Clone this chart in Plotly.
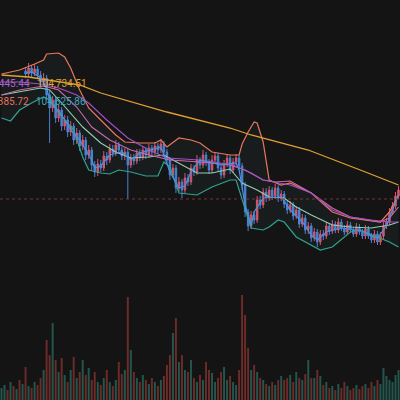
import plotly.graph_objects as go

# candles (index 0..132), prices
opens = [104780, 104840, 104920, 104800, 104940, 104860, 104960, 104840, 104980, 104920,
         105040, 104940, 105020, 104900, 104760, 104840, 104500, 104240, 104400, 104040,
         104200, 103880, 104000, 103760, 103880, 103600, 103740, 103480, 103600, 103300,
         103400, 103100, 102960, 103120, 103040, 103280, 103200, 103420, 103340, 103500,
         103400, 103280, 103360, 103100, 103240, 103180, 103340, 103260, 103400, 103300,
         103440, 103360, 103480, 103400, 103520, 103360, 103200, 102900, 103040, 102640,
         102760, 102600, 102840, 102760, 103040, 102960, 103200, 103100, 103300, 103160,
         103000, 103200, 103280, 103040, 102900, 103120, 103240, 103000, 103160, 103240,
         103080, 102700, 102160, 101880, 102100, 102000, 102400, 102300, 102560, 102440,
         102600, 102480, 102640, 102440, 102520, 102320, 102200, 102300, 102080, 102200,
         101920, 102040, 101800, 101880, 101640, 101760, 101560, 101720, 101680, 101880,
         101780, 101920, 101800, 101960, 101840, 101760, 101900, 101800, 101720, 101860,
         101760, 101680, 101820, 101680, 101600, 101720, 101560, 101680, 101880, 101960,
         102160, 102280, 102480]
closes = [104840, 104920, 104800, 104940, 104860, 104960, 104840, 104980, 104920, 105040,
          104940, 105020, 104900, 104760, 104840, 104500, 104240, 104400, 104040, 104200,
          103880, 104000, 103760, 103880, 103600, 103740, 103480, 103600, 103300, 103400,
          103100, 102960, 103120, 103040, 103280, 103200, 103420, 103340, 103500, 103400,
          103280, 103360, 103100, 103240, 103180, 103340, 103260, 103400, 103300, 103440,
          103360, 103480, 103400, 103520, 103360, 103200, 102900, 103040, 102640, 102760,
          102600, 102840, 102760, 103040, 102960, 103200, 103100, 103300, 103160, 103000,
          103200, 103280, 103040, 102900, 103120, 103240, 103000, 103160, 103240, 103080,
          102700, 102160, 101880, 102100, 102000, 102400, 102300, 102560, 102440, 102600,
          102480, 102640, 102440, 102520, 102320, 102200, 102300, 102080, 102200, 101920,
          102040, 101800, 101880, 101640, 101760, 101560, 101720, 101680, 101880, 101780,
          101920, 101800, 101960, 101840, 101760, 101900, 101800, 101720, 101860, 101760,
          101680, 101820, 101680, 101600, 101720, 101560, 101680, 101880, 101960, 102160,
          102280, 102480, 102600]
highs = [104920, 105000, 104980, 105020, 105000, 105060, 105020, 105080, 105060, 105140,
         105100, 105120, 105080, 104980, 104940, 104900, 104580, 104480, 104460, 104300,
         104260, 104100, 104080, 103980, 103940, 103840, 103800, 103700, 103660, 103500,
         103460, 103180, 103220, 103200, 103380, 103360, 103520, 103500, 103600, 103560,
         103460, 103440, 103420, 103320, 103320, 103420, 103420, 103480, 103460, 103520,
         103500, 103560, 103540, 103620, 103580, 103420, 103260, 103120, 103100, 102860,
         102820, 102940, 102920, 103120, 103100, 103300, 103260, 103400, 103360, 103220,
         103300, 103360, 103340, 103100, 103200, 103320, 103300, 103240, 103320, 103300,
         103140, 102760, 102220, 102180, 102180, 102480, 102480, 102640, 102640, 102680,
         102660, 102720, 102700, 102600, 102580, 102400, 102380, 102360, 102280, 102260,
         102120, 102100, 101960, 101940, 101840, 101820, 101800, 101800, 101960, 101940,
         102000, 101980, 102040, 102020, 101900, 101980, 101960, 101860, 101940, 101920,
         101820, 101900, 101880, 101740, 101800, 101780, 101760, 101960, 102040, 102240,
         102360, 102560, 102680]
lows = [104700, 104760, 104720, 104740, 104780, 104800, 104760, 104780, 104840, 104860,
        104860, 104880, 104820, 104680, 104700, 104400, 103540, 104160, 103940, 103960,
        103780, 103800, 103660, 103680, 103500, 103520, 103380, 103400, 103200, 103220,
        103000, 102860, 102880, 102960, 102980, 103100, 103140, 103260, 103280, 103320,
        103200, 103200, 102420, 103040, 103100, 103120, 103180, 103200, 103220, 103240,
        103280, 103300, 103320, 103340, 103280, 103120, 102800, 102840, 102540, 102560,
        102440, 102540, 102680, 102700, 102880, 102900, 103020, 103040, 103080, 102920,
        102940, 103120, 102960, 102820, 102840, 103060, 102920, 102940, 103100, 103000,
        102600, 102060, 101780, 101820, 101920, 101940, 102220, 102240, 102360, 102380,
        102400, 102420, 102360, 102380, 102240, 102120, 102140, 102000, 102020, 101840,
        101860, 101720, 101720, 101560, 101580, 101460, 101500, 101600, 101620, 101700,
        101720, 101740, 101740, 101780, 101700, 101700, 101740, 101660, 101660, 101700,
        101620, 101620, 101620, 101540, 101540, 101500, 101500, 101620, 101820, 101900,
        102100, 102220, 102420]
volumes = [120, 150, 100, 180, 140, 110, 200, 160, 330, 140,
           120, 180, 150, 220, 300, 600, 450, 770, 400, 280,
           420, 250, 180, 300, 430, 220, 280, 400, 250, 320,
           200, 280, 180, 150, 220, 300, 180, 140, 200, 380,
           260, 300, 1030, 500, 280, 220, 180, 250, 200, 160,
           220, 180, 140, 200, 240, 350, 450, 670, 820, 380,
           450, 300, 280, 400, 220, 180, 250, 200, 380, 300,
           270, 180, 220, 280, 330, 200, 240, 180, 150, 300,
           1050, 850, 520, 300, 350, 280, 220, 200, 160, 140,
           180, 150, 200, 240, 200, 220, 250, 180, 280, 220,
           200, 260, 400, 220, 220, 300, 240, 150, 180, 120,
           140, 100, 160, 120, 180, 140, 100, 120, 150, 110,
           140, 160, 120, 180, 140, 200, 160, 320, 240, 200,
           180, 250, 300]

# indicator lines, sampled at candle indices
ma_long_x = [0, 9, 26, 33, 55, 66, 76, 83, 102, 121, 132]
ma_long = [104900, 104860, 104700, 104540, 104160, 104000, 103840, 103700, 103400, 102960, 102700]

upper_x = [0, 6, 11, 14, 15, 19, 21, 23, 26, 29, 33, 38, 41, 46, 51, 53, 55, 59, 63, 66,
           70, 76, 79, 80, 82, 84, 85, 87, 89, 93, 96, 103, 110, 116, 123, 126, 129, 132]
upper = [104920, 105000, 105120, 105200, 105320, 105340, 105260, 105040, 104600, 104240,
         104000, 103700, 103560, 103540, 103540, 103600, 103460, 103640, 103600, 103540,
         103360, 103300, 103300, 103520, 103760, 103960, 103940, 103560, 102800, 102700,
         102740, 102540, 102160, 102040, 101980, 101960, 102160, 102500]

middle_x = [0, 6, 13, 16, 20, 27, 33, 38, 43, 49, 54, 57, 65, 70, 76, 80, 85, 89, 94, 98,
            103, 110, 116, 123, 129, 132]
middle = [104500, 104560, 104640, 104600, 104340, 103860, 103540, 103360, 103240, 103260,
          103300, 103200, 102940, 102940, 103020, 102740, 102600, 102460, 102440, 102260,
          102100, 101900, 101860, 101840, 101900, 101960]

lower_x = [0, 3, 6, 10, 14, 16, 19, 24, 27, 29, 33, 36, 39, 43, 48, 52, 54, 56, 59, 65,
           70, 76, 78, 80, 83, 87, 89, 92, 94, 98, 103, 106, 110, 116, 119, 123, 126, 129, 132]
lower = [104040, 103980, 104200, 104340, 104460, 104400, 104140, 103800, 103260, 103000,
         102940, 102920, 103000, 102960, 102880, 102880, 103160, 103060, 102540, 102500,
         102660, 102800, 102800, 102400, 101840, 101800, 101860, 102000, 101960, 101660,
         101500, 101400, 101460, 101760, 101800, 101700, 101640, 101560, 101460]

purple_x = [0, 6, 13, 19, 25, 29, 35, 42, 49, 55, 66, 77, 83, 87, 96, 103, 110, 116, 123, 129, 132]
purple = [104760, 104760, 104720, 104640, 104500, 104340, 104000, 103640, 103400, 103240,
          103200, 103100, 102940, 102800, 102700, 102540, 102200, 102060, 102000, 101960, 101960]

pink_x = [0, 6, 14, 19, 25, 30, 36, 43, 49, 56, 66, 76, 81, 87, 91, 96, 103, 110, 116, 123,
          126, 129, 132]
pink = [104500, 104600, 104680, 104600, 104260, 103860, 103600, 103400, 103300, 103200,
        103160, 103100, 103000, 102800, 102760, 102780, 102540, 102240, 102060, 102000,
        101960, 102040, 102260]

# short MA that hugs the price
fast_x = [8, 10, 13, 15, 16, 20, 23, 26, 30, 31, 33, 36, 40, 43, 46, 53, 54, 56, 59, 61,
          63, 66, 73, 78, 79, 81, 83, 84, 87, 93, 96, 100, 103, 105, 108, 113, 120, 123,
          125, 128, 130, 132]
fast = [104940, 104960, 104840, 104640, 104400, 104100, 103800, 103600, 103200, 103040,
        103080, 103300, 103360, 103200, 103340, 103460, 103300, 102960, 102640, 102680,
        102960, 103200, 103100, 103140, 103000, 102300, 101900, 102160, 102440, 102460,
        102200, 101960, 101700, 101600, 101760, 101840, 101780, 101680, 101640, 101880,
        102200, 102500]

price_line = 102420
first_visible = 8  # candles left of this sit under the legend and are not drawn

idx = list(range(len(closes)))
up_col = '#d9546a'
down_col = '#4a82d6'
vol_colors = ['rgba(42,108,96,0.75)' if c >= o else 'rgba(130,50,46,0.8)'
              for o, c in zip(opens, closes)]

fig = go.Figure()

# band fill + lines
fig.add_trace(go.Scatter(x=upper_x, y=upper, mode='lines', line=dict(color='#e8775d', width=1.2),
                         hoverinfo='skip'))
fig.add_trace(go.Scatter(x=lower_x, y=lower, mode='lines', line=dict(color='#2fa394', width=1.2),
                         fill='tonexty', fillcolor='rgba(90,140,150,0.07)', hoverinfo='skip'))
fig.add_trace(go.Scatter(x=middle_x, y=middle, mode='lines', line=dict(color='#8fcfb4', width=1.1),
                         hoverinfo='skip'))
fig.add_trace(go.Scatter(x=pink_x, y=pink, mode='lines', line=dict(color='#c86aa8', width=1.1),
                         hoverinfo='skip'))
fig.add_trace(go.Scatter(x=purple_x, y=purple, mode='lines', line=dict(color='#a050c8', width=1.1),
                         hoverinfo='skip'))
fig.add_trace(go.Scatter(x=ma_long_x, y=ma_long, mode='lines', line=dict(color='#e0a032', width=1.3),
                         hoverinfo='skip'))

s = first_visible
fig.add_trace(go.Candlestick(x=idx[s:], open=opens[s:], high=highs[s:], low=lows[s:], close=closes[s:],
                             increasing=dict(line=dict(color=up_col, width=1), fillcolor=up_col),
                             decreasing=dict(line=dict(color=down_col, width=1), fillcolor=down_col),
                             whiskerwidth=0))
fig.add_trace(go.Scatter(x=fast_x, y=fast, mode='lines', line=dict(color='#4d8fe0', width=1.2),
                         hoverinfo='skip'))

fig.add_trace(go.Bar(x=idx, y=volumes, marker=dict(color=vol_colors, line=dict(width=0)),
                     xaxis='x2', yaxis='y2'))

fig.add_hline(y=price_line, line=dict(color='#7a3434', width=1, dash='dot'))

# legend values (cut off at the left edge, like the screenshot)
labels = [
    ('104,445.44', 0.079, 0.792, 'right', '#b060d0'),
    ('104,734.51', 0.088, 0.792, 'left', '#e0a032'),
    ('104,385.72', 0.077, 0.747, 'right', '#e4705e'),
    ('104,525.86', 0.084, 0.747, 'left', '#3aa8b8'),
]
for txt, x, y, anchor, col in labels:
    fig.add_annotation(text=txt, x=x, y=y, xref='paper', yref='paper', xanchor=anchor,
                       yanchor='middle', showarrow=False,
                       font=dict(family='Roboto', size=10, color=col))

fig.update_layout(
    width=400, height=400, margin=dict(l=0, r=0, t=0, b=0),
    paper_bgcolor='#141414', plot_bgcolor='#141414',
    showlegend=False, bargap=0.35,
    xaxis=dict(range=[-0.5, 132.5], visible=False, rangeslider=dict(visible=False), anchor='y'),
    yaxis=dict(range=[100800, 106400], domain=[0.3, 1], visible=False),
    xaxis2=dict(range=[-0.5, 132.5], visible=False, anchor='y2'),
    yaxis2=dict(range=[0, 1120], domain=[0, 0.28], visible=False),
)

fig.write_html("out.html", config={'displayModeBar': False},
               post_script="document.body.style.margin='0';"
                           "document.body.style.background='#141414';")
